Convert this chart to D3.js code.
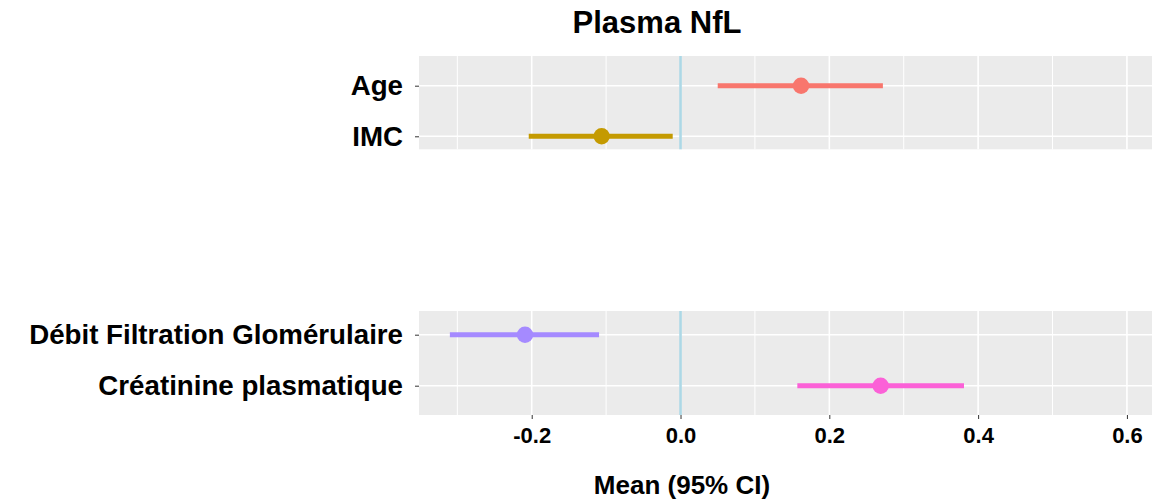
<!DOCTYPE html>
<html>
<head>
<meta charset="utf-8">
<script src="https://cdn.jsdelivr.net/npm/d3@7"></script>
<style>
  html, body { margin: 0; padding: 0; background: #fff; }
  svg { display: block; }
  text { font-family: "Liberation Sans", Arial, Helvetica, sans-serif; font-weight: bold; fill: #000; }
</style>
</head>
<body>
<svg id="chart" width="1166" height="500"></svg>
<script>
// ---- data ----
const categories = ["Age", "IMC", "Débit Filtration Glomérulaire", "Créatinine plasmatique"];
const panels = [0, 0, 1, 1];
const means = [0.162, -0.106, -0.209, 0.269];
const lowerCI = [0.050, -0.204, -0.310, 0.157];
const upperCI = [0.272, -0.0105, -0.1095, 0.381];
const colors = ["#F8766D", "#C49A00", "#A58AFF", "#FB61D7"];
const xMajorTicks = [-0.2, 0.0, 0.2, 0.4, 0.6];
const xMinorTicks = [-0.3, -0.1, 0.1, 0.3, 0.5];
const xDomain = [-0.3515, 0.6337];
const refValue = 0;
const titleText = "Plasma NfL";
const xTitle = "Mean (95% CI)";

// ---- layout ----
const panelLeft = 419, panelRight = 1152;
const panelBoxes = [
  { top: 56, bottom: 149.3, rowRange: [85.7, 136.3] },
  { top: 311, bottom: 415, rowRange: [334.7, 385.7] }
];

const svg = d3.select("#chart");
const x = d3.scaleLinear().domain(xDomain).range([panelLeft, panelRight]);

const rows = categories.map((c, i) => ({
  cat: c, panel: panels[i], mean: means[i], lo: lowerCI[i], hi: upperCI[i], color: colors[i]
}));

panelBoxes.forEach((pb, pi) => {
  const cats = rows.filter(r => r.panel === pi).map(r => r.cat);
  const y = d3.scalePoint().domain(cats).range(pb.rowRange);
  const g = svg.append("g");

  // background
  g.append("rect")
    .attr("x", panelLeft).attr("y", pb.top)
    .attr("width", panelRight - panelLeft).attr("height", pb.bottom - pb.top)
    .attr("fill", "#EBEBEB");

  // minor grid
  g.selectAll(".minor").data(xMinorTicks).enter().append("line")
    .attr("x1", d => x(d)).attr("x2", d => x(d))
    .attr("y1", pb.top).attr("y2", pb.bottom)
    .attr("stroke", "#fff").attr("stroke-width", 1);

  // major grid
  g.selectAll(".major").data(xMajorTicks).enter().append("line")
    .attr("x1", d => x(d)).attr("x2", d => x(d))
    .attr("y1", pb.top).attr("y2", pb.bottom)
    .attr("stroke", "#fff").attr("stroke-width", 1.6);

  g.selectAll(".hgrid").data(cats).enter().append("line")
    .attr("x1", panelLeft).attr("x2", panelRight)
    .attr("y1", d => y(d)).attr("y2", d => y(d))
    .attr("stroke", "#fff").attr("stroke-width", 1.6);

  // reference line
  g.append("line")
    .attr("x1", x(refValue)).attr("x2", x(refValue))
    .attr("y1", pb.top).attr("y2", pb.bottom)
    .attr("stroke", "#ADD8E6").attr("stroke-width", 2.6);

  // y axis
  const yAxis = d3.axisLeft(y).tickSize(4).tickPadding(12);
  const ya = g.append("g").attr("transform", `translate(${panelLeft},0)`).call(yAxis);
  ya.select(".domain").remove();
  ya.selectAll(".tick line").attr("stroke", "#333").attr("stroke-width", 1);
  ya.selectAll(".tick text")
    .attr("font-size", 27.7).attr("fill", "#000")
    .attr("font-family", "'Liberation Sans', Arial, sans-serif")
    .attr("font-weight", "bold");

  // error bars
  const data = rows.filter(r => r.panel === pi);
  g.selectAll(".err").data(data).enter().append("line")
    .attr("x1", d => x(d.lo)).attr("x2", d => x(d.hi))
    .attr("y1", d => y(d.cat)).attr("y2", d => y(d.cat))
    .attr("stroke", d => d.color).attr("stroke-width", 5);

  g.selectAll(".pt").data(data).enter().append("circle")
    .attr("cx", d => x(d.mean)).attr("cy", d => y(d.cat))
    .attr("r", 8.2).attr("fill", d => d.color);

  // x axis on bottom panel
  if (pi === panelBoxes.length - 1) {
    const xAxis = d3.axisBottom(x).tickValues(xMajorTicks)
      .tickFormat(d3.format(".1f")).tickSize(4).tickPadding(8);
    const xa = g.append("g").attr("transform", `translate(0,${pb.bottom})`).call(xAxis);
    xa.select(".domain").remove();
    xa.selectAll(".tick line").attr("stroke", "#333").attr("stroke-width", 1);
    xa.selectAll(".tick text")
      .attr("font-size", 22).attr("fill", "#000")
      .attr("font-family", "'Liberation Sans', Arial, sans-serif")
      .attr("font-weight", "bold")
      .text(d => d3.format(".1f")(d).replace("−", "-"));
  }
});

// title
svg.append("text")
  .attr("x", 657).attr("y", 33)
  .attr("text-anchor", "middle")
  .attr("font-size", 31)
  .text(titleText);

// x title
svg.append("text")
  .attr("x", 682).attr("y", 494)
  .attr("text-anchor", "middle")
  .attr("font-size", 26)
  .text(xTitle);
</script>
</body>
</html>
